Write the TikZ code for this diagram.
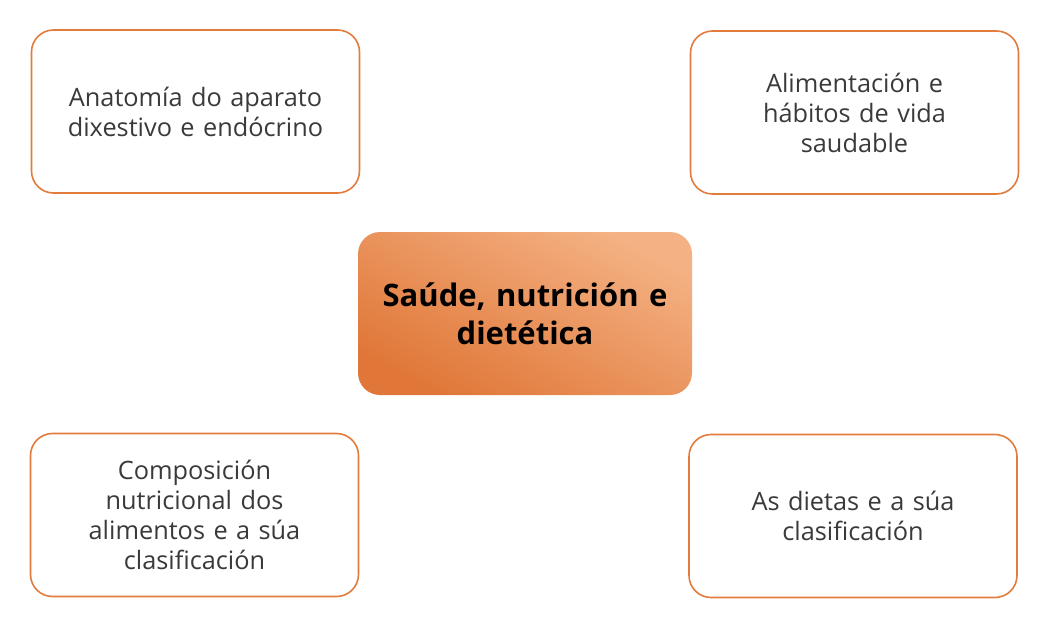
\documentclass[tikz,border=0pt]{standalone}
\usepackage{fontspec}
\setmainfont{Open Sans}
\definecolor{orangeline}{HTML}{E27B3C}
\definecolor{txtgray}{HTML}{3A3A3A}
\definecolor{gradlight}{HTML}{F4B183}
\definecolor{graddark}{HTML}{E07738}
\begin{document}
\begin{tikzpicture}[x=1pt,y=-1pt,
  sidebox/.style={draw=orangeline, line width=1.6pt, rounded corners=22pt, fill=white,
    minimum width=328pt, minimum height=163pt, align=center, text=txtgray,
    font=\fontsize{25.3}{30}\selectfont, text width=320pt, inner sep=0pt},
  centerbox/.style={rounded corners=22pt, shading=axis, top color=gradlight, bottom color=graddark,
    shading angle=-28, minimum width=334pt, minimum height=163pt, align=center,
    font=\fontsize{31}{38}\selectfont\bfseries, text width=330pt, inner sep=0pt}]
\useasboundingbox (0,0) rectangle (1053,618);
\node[sidebox] (tl) at (195.5,111.5) {Anatomía do aparato\\dixestivo e endócrino};
\node[sidebox] (tr) at (854.5,112.5) {Alimentación e\\hábitos de vida\\saudable};
\node[centerbox] (c) at (525,313.5) {Saúde, nutrición e\\dietética};
\node[sidebox] (bl) at (194.5,515) {Composición\\nutricional dos\\alimentos e a súa\\clasificación};
\node[sidebox] (br) at (853,516) {As dietas e a súa\\clasificación};
\end{tikzpicture}
\end{document}
